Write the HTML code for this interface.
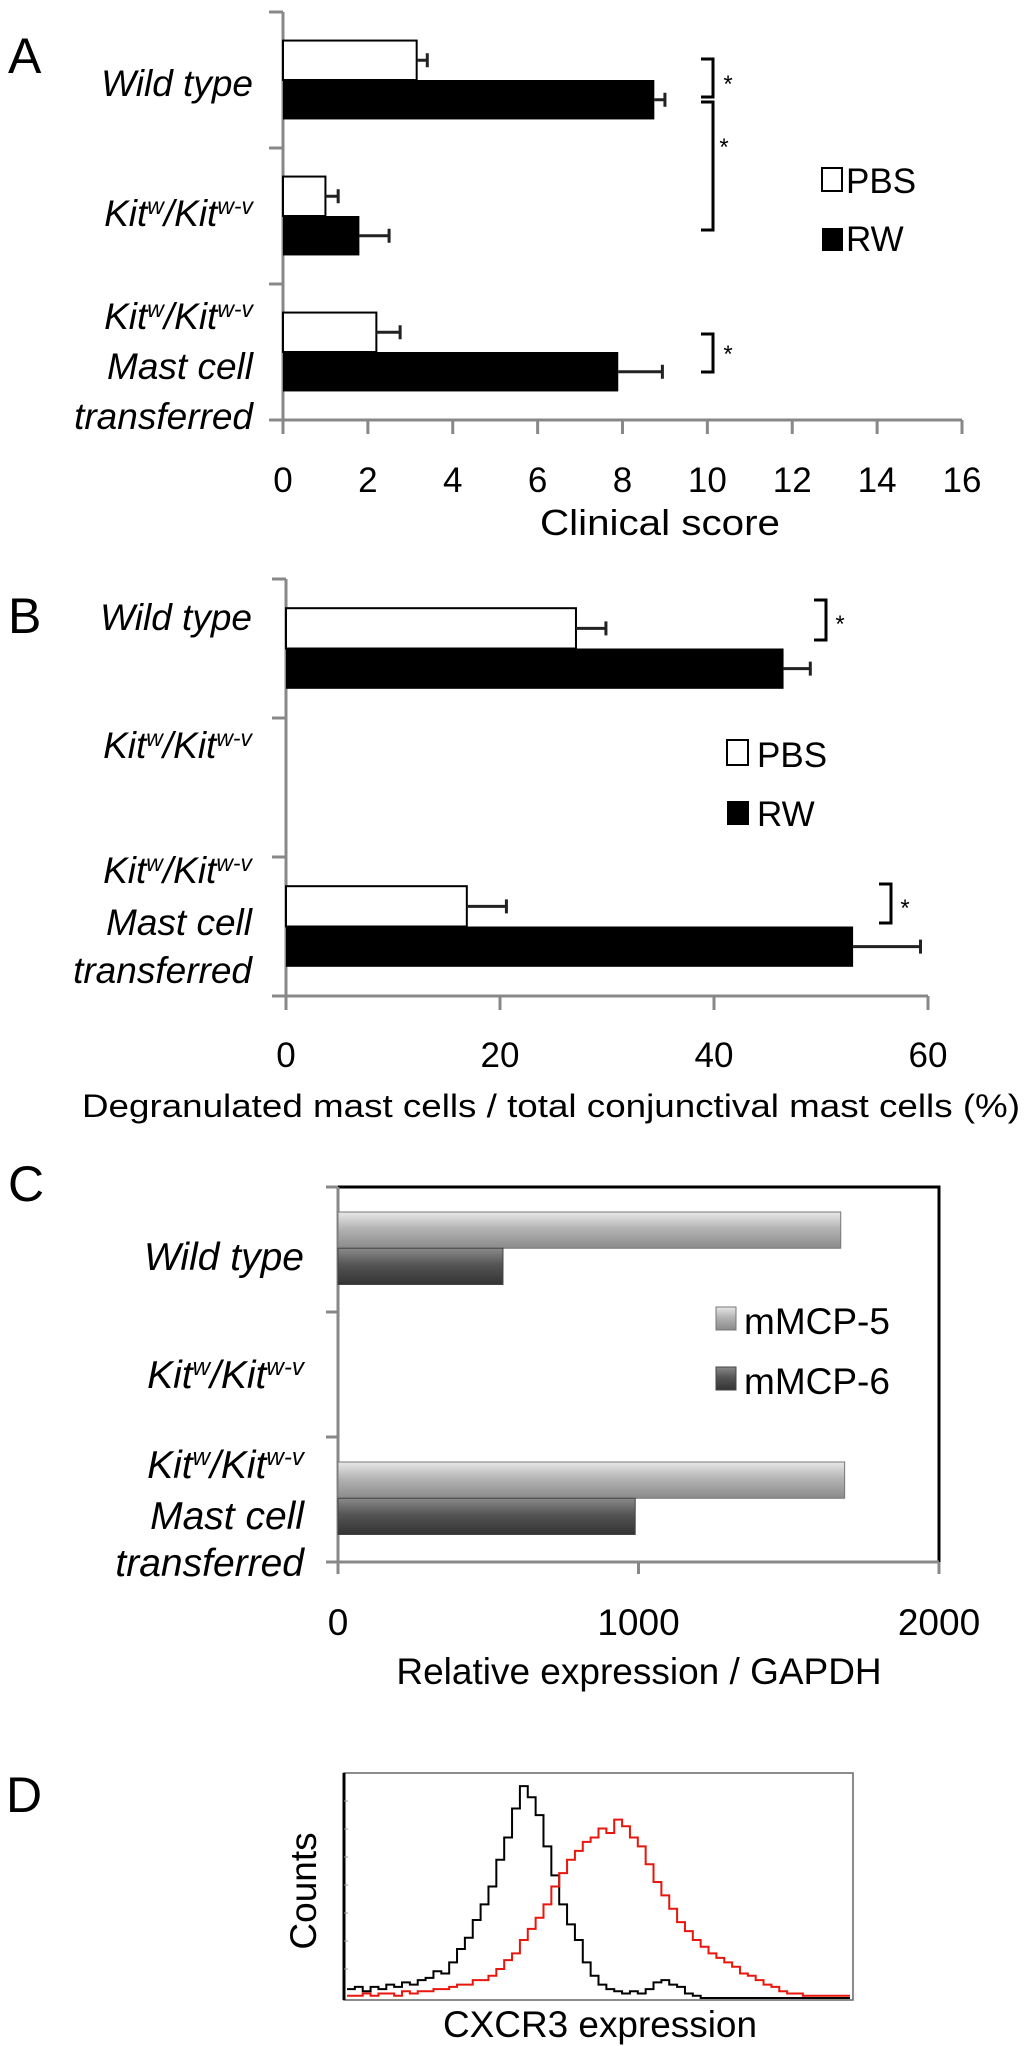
<!DOCTYPE html>
<html><head><meta charset="utf-8"><style>
html,body{margin:0;padding:0;background:#fff;}
svg{display:block;font-family:"Liberation Sans",Arial,sans-serif;}
</style></head><body>
<svg id="fig" width="1032" height="2046" viewBox="0 0 1032 2046" xmlns="http://www.w3.org/2000/svg">
<rect x="0" y="0" width="1032" height="2046" fill="#fff"/>
<g id="panelA"></g>
<g id="panelB"></g>
<g id="panelC"></g>
<g id="panelD"></g>
</svg>
<script>
// ---------- Panel A data ----------
const aCategories = ["Wild type", "Kit", "Mast cell transferred"];
const aPBS = [3.15, 1.0, 2.2];
const aPBSErr = [3.4, 1.3, 2.76];
const aRW = [8.75, 1.8, 7.9];
const aRWErr = [9.0, 2.5, 8.94];
const aTicks = [0, 2, 4, 6, 8, 10, 12, 14, 16];
// ---------- Panel B data ----------
const bCategories = ["Wild type", "Kit", "Mast cell transferred"];
const bPBS = [27.1, null, 16.9];
const bPBSErr = [29.9, null, 20.6];
const bRW = [46.5, null, 53.0];
const bRWErr = [49.0, null, 59.3];
const bTicks = [0, 20, 40, 60];
// ---------- Panel C data ----------
const cCategories = ["Wild type", "Kit", "Mast cell transferred"];
const cMCP5 = [1673, null, 1686];
const cMCP6 = [549, null, 989];
const cTicks = [0, 1000, 2000];
// ---------- Panel D data (histogram, fraction of max counts per bin) ----------
const dControl = [0.04,0.05,0.03,0.05,0.04,0.06,0.05,0.07,0.06,0.08,0.09,0.12,0.11,0.16,0.22,0.27,0.35,0.42,0.5,0.62,0.72,0.85,0.95,0.9,0.82,0.68,0.55,0.42,0.33,0.26,0.16,0.1,0.06,0.04,0.03,0.02,0.03,0.02,0.04,0.07,0.08,0.06,0.05,0.02,0.01,0,0,0,0,0,0,0,0,0,0,0,0,0,0,0,0,0,0,0];
const dCXCR3 = [0.01,0.01,0.02,0.01,0.02,0.02,0.01,0.03,0.02,0.03,0.03,0.04,0.04,0.05,0.06,0.06,0.08,0.08,0.1,0.13,0.17,0.2,0.26,0.31,0.36,0.42,0.5,0.56,0.62,0.66,0.7,0.72,0.76,0.74,0.8,0.77,0.72,0.68,0.6,0.52,0.46,0.4,0.34,0.3,0.26,0.23,0.2,0.18,0.16,0.14,0.11,0.1,0.08,0.06,0.05,0.03,0.02,0.02,0.01,0.01,0.01,0.01,0.01,0.01];

const NS = "http://www.w3.org/2000/svg";
function mk(parent, tag, attrs) {
  const e = document.createElementNS(NS, tag);
  for (const k in attrs) e.setAttribute(k, attrs[k]);
  parent.appendChild(e);
  return e;
}
function txt(parent, x, y, s, size, anchor, italic) {
  const t = mk(parent, "text", {x: x, y: y, "font-size": size, "text-anchor": anchor || "start", fill: "#000"});
  if (italic) t.setAttribute("font-style", "italic");
  t.textContent = s;
  return t;
}
function kitLabel(parent, xRight, y, size) {
  const t = mk(parent, "text", {x: xRight, y: y, "font-size": size, "text-anchor": "end", "font-style": "italic", fill: "#000"});
  const a = mk(t, "tspan", {}); a.textContent = "Kit";
  const b = mk(t, "tspan", {dy: -size * 0.33, "font-size": size * 0.62}); b.textContent = "w";
  const c = mk(t, "tspan", {dy: size * 0.33}); c.textContent = "/Kit";
  const d = mk(t, "tspan", {dy: -size * 0.33, "font-size": size * 0.62}); d.textContent = "w-v";
  return t;
}
function catLabels(g, xRight, ys, size) {
  const l1 = txt(g, xRight, ys[0], "Wild type", size, "end", true);
  
  
  const l2 = kitLabel(g, xRight, ys[1], size);
  
  
  const l3 = kitLabel(g, xRight, ys[2], size);
  
  
  const l4 = txt(g, xRight, ys[3], "Mast cell", size, "end", true);
  
  
  const l5 = txt(g, xRight, ys[4], "transferred", size, "end", true);
  
  
}
function bracket(g, x1, x2, y1, y2, sx, sy) {
  const p = mk(g, "path", {d: `M${x1},${y1} H${x2} V${y2} H${x1}`, fill: "none", stroke: "#000", "stroke-width": 3});
  
  
  const s = txt(g, sx, sy, "*", 24, "middle");
  
  
}

function barPanel(g, o) {
  const xs = v => o.x0 + (v - o.dMin) / (o.dMax - o.dMin) * (o.x1 - o.x0);
  const band = (o.yBot - o.yTop) / o.pbs.length;
  const ya = mk(g, "line", {x1: o.x0, y1: o.yTop, x2: o.x0, y2: o.yBot, stroke: "#888", "stroke-width": 3});
  
  
  const xa = mk(g, "line", {x1: o.x0 - 14, y1: o.yBot, x2: o.x1, y2: o.yBot, stroke: "#888", "stroke-width": 3});
  
  
  for (let i = 0; i < o.pbs.length; i++) {
    const tk = mk(g, "line", {x1: o.x0 - 14, y1: o.yTop + i * band, x2: o.x0, y2: o.yTop + i * band, stroke: "#888", "stroke-width": 3});
    
    
  }
  o.ticks.forEach(t => {
    const x = xs(t);
    const tl = mk(g, "line", {x1: x, y1: o.yBot, x2: x, y2: o.yBot + 14, stroke: "#888", "stroke-width": 3});
    
    
    const lb = txt(g, x, o.tickY, String(t), o.tickSize, "middle");
    
    
  });
  const bh = band * 0.29;
  for (let i = 0; i < o.pbs.length; i++) {
    const yb = o.yTop + i * band + band * 0.21;
    if (o.pbs[i] != null) {
      const r = mk(g, "rect", {x: o.x0, y: yb, width: xs(o.pbs[i]) - o.x0, height: bh, fill: "#fff", stroke: "#000", "stroke-width": 2});
      
      
      const ym = yb + bh / 2;
      const e = mk(g, "path", {d: `M${xs(o.pbs[i])},${ym} H${xs(o.pbsErr[i])} M${xs(o.pbsErr[i])},${ym - 7} V${ym + 7}`, stroke: "#222", "stroke-width": 3, fill: "none"});
      
      
    }
    if (o.rw[i] != null) {
      const y2 = yb + bh;
      const r = mk(g, "rect", {x: o.x0, y: y2, width: xs(o.rw[i]) - o.x0, height: bh, fill: "#000"});
      
      
      const ym = y2 + bh / 2;
      const e = mk(g, "path", {d: `M${xs(o.rw[i])},${ym} H${xs(o.rwErr[i])} M${xs(o.rwErr[i])},${ym - 7} V${ym + 7}`, stroke: "#222", "stroke-width": 3, fill: "none"});
      
      
    }
  }
  return xs;
}

// ---------- Panel A ----------
(function () {
  const g = document.getElementById("panelA");
  const pl = txt(g, 8, 73, "A", 50, "start");  
  barPanel(g, {x0: 283, x1: 962, dMin: 0, dMax: 16, yTop: 12, yBot: 420, pbs: aPBS, pbsErr: aPBSErr, rw: aRW, rwErr: aRWErr, ticks: aTicks, tickY: 492, tickSize: 35});
  catLabels(g, 253, [96, 226, 329, 379, 429], 37);
  const xt = txt(g, 540, 535, "Clinical score", 36, "start");
  xt.setAttribute("textLength", "240"); xt.setAttribute("lengthAdjust", "spacingAndGlyphs");
   
  bracket(g, 701, 713, 59, 97, 728, 92);
  bracket(g, 701, 713, 102, 230, 724, 155);
  bracket(g, 701, 713, 334, 372, 728, 362);
  const l1 = mk(g, "rect", {x: 822, y: 168, width: 20, height: 23, fill: "#fff", stroke: "#000", "stroke-width": 2});  
  const t1 = txt(g, 846, 193, "PBS", 35);  
  const l2 = mk(g, "rect", {x: 822, y: 228, width: 21, height: 23, fill: "#000"});  
  const t2 = txt(g, 846, 251, "RW", 35);  
})();

// ---------- Panel B ----------
(function () {
  const g = document.getElementById("panelB");
  const pl = txt(g, 8, 633, "B", 50, "start");  
  barPanel(g, {x0: 286, x1: 928, dMin: 0, dMax: 60, yTop: 579, yBot: 996, pbs: bPBS, pbsErr: bPBSErr, rw: bRW, rwErr: bRWErr, ticks: bTicks, tickY: 1067, tickSize: 35});
  catLabels(g, 252, [630, 758, 883, 935, 983], 37);
  const xt = txt(g, 82, 1117, "Degranulated mast cells /  total conjunctival mast cells (%)", 32, "start");
  xt.setAttribute("textLength", "938"); xt.setAttribute("lengthAdjust", "spacingAndGlyphs");
   
  bracket(g, 814, 826, 600, 640, 840, 632);
  bracket(g, 879, 891, 884, 923, 905, 916);
  const l1 = mk(g, "rect", {x: 727, y: 740, width: 21, height: 25, fill: "#fff", stroke: "#000", "stroke-width": 2});  
  const t1 = txt(g, 757, 767, "PBS", 35);  
  const l2 = mk(g, "rect", {x: 727, y: 801, width: 22, height: 24, fill: "#000"});  
  const t2 = txt(g, 757, 826, "RW", 35);  
})();

// ---------- Panel C ----------
(function () {
  const g = document.getElementById("panelC");
  const defs = mk(g, "defs", {});
  const g1 = mk(defs, "linearGradient", {id: "gLight", x1: 0, y1: 0, x2: 0, y2: 1});
  mk(g1, "stop", {offset: "0", "stop-color": "#e8e8e8"});
  mk(g1, "stop", {offset: "0.45", "stop-color": "#b4b4b4"});
  mk(g1, "stop", {offset: "1", "stop-color": "#8a8a8a"});
  const g2 = mk(defs, "linearGradient", {id: "gDark", x1: 0, y1: 0, x2: 0, y2: 1});
  mk(g2, "stop", {offset: "0", "stop-color": "#8a8a8a"});
  mk(g2, "stop", {offset: "0.45", "stop-color": "#555"});
  mk(g2, "stop", {offset: "1", "stop-color": "#333"});
  const x0 = 338, x1 = 939, yTop = 1187, yBot = 1562, dMax = 2000;
  const xs = v => x0 + v / dMax * (x1 - x0);
  const pl = txt(g, 8, 1201, "C", 50, "start");  
  const fr = mk(g, "path", {d: `M${x0},${yTop} H${x1} V${yBot}`, fill: "none", stroke: "#000", "stroke-width": 3});
   
  const ya = mk(g, "line", {x1: x0, y1: yTop, x2: x0, y2: yBot, stroke: "#888", "stroke-width": 3});
   
  const xa = mk(g, "line", {x1: x0 - 12, y1: yBot, x2: x1, y2: yBot, stroke: "#888", "stroke-width": 3});
   
  const band = (yBot - yTop) / cCategories.length;
  for (let i = 0; i < cCategories.length; i++) {
    const tk = mk(g, "line", {x1: x0 - 12, y1: yTop + i * band, x2: x0, y2: yTop + i * band, stroke: "#888", "stroke-width": 3});
     
  }
  cTicks.forEach(t => {
    const tl = mk(g, "line", {x1: xs(t), y1: yBot, x2: xs(t), y2: yBot + 12, stroke: "#888", "stroke-width": 3});
     
    const lb = txt(g, xs(t), 1635, String(t), 37, "middle");
     
  });
  const bh = band * 0.29;
  for (let i = 0; i < cCategories.length; i++) {
    const yb = yTop + i * band + band * 0.2;
    if (cMCP5[i] != null) {
      const r = mk(g, "rect", {x: x0, y: yb, width: xs(cMCP5[i]) - x0, height: bh, fill: "url(#gLight)", stroke: "#777", "stroke-width": 1});
       
    }
    if (cMCP6[i] != null) {
      const r = mk(g, "rect", {x: x0, y: yb + bh, width: xs(cMCP6[i]) - x0, height: bh, fill: "url(#gDark)", stroke: "#444", "stroke-width": 1});
       
    }
  }
  catLabels(g, 304, [1270, 1388, 1478, 1529, 1576], 39);
  const xt = txt(g, 639, 1684, "Relative expression / GAPDH", 37, "middle");
   
  const s1 = mk(g, "rect", {x: 716, y: 1307, width: 20, height: 23, fill: "url(#gLight)", stroke: "#777"});  
  const tt1 = txt(g, 744, 1334, "mMCP-5", 37);  
  const s2 = mk(g, "rect", {x: 716, y: 1367, width: 20, height: 23, fill: "url(#gDark)", stroke: "#444"});  
  const tt2 = txt(g, 744, 1394, "mMCP-6", 37);  
})();

// ---------- Panel D ----------
(function () {
  const g = document.getElementById("panelD");
  const x0 = 344, x1 = 853, yTop = 1773, yBot = 2000;
  const nb = dControl.length;
  const xs = i => x0 + 3 + i / nb * (x1 - x0 - 6);
  const ys = v => yBot - 2 - v * (yBot - yTop - 4);
  const pl = txt(g, 6, 1812, "D", 50, "start");  
  const box = mk(g, "rect", {x: x0, y: yTop, width: x1 - x0, height: yBot - yTop, fill: "#fff", stroke: "#666", "stroke-width": 1.5});
   
  const ya = mk(g, "line", {x1: x0, y1: yTop, x2: x0, y2: yBot, stroke: "#000", "stroke-width": 3});
   
  for (let k = 1; k < 8; k++) {
    const tk = mk(g, "line", {x1: x0, y1: yTop + k * 28, x2: x0 + 4, y2: yTop + k * 28, stroke: "#999", "stroke-width": 1});
     
  }
  function hist(arr, color, name) {
    let d = `M${xs(0)},${ys(arr[0])}`;
    for (let i = 0; i < arr.length; i++) {
      d += ` V${ys(arr[i])} H${xs(i + 1)}`;
    }
    const p = mk(g, "path", {d: d, fill: "none", stroke: color, "stroke-width": 2, "stroke-linejoin": "miter"});
    
    
  }
  hist(dControl, "#000", "histogram-control");
  hist(dCXCR3, "#e8160c", "histogram-cxcr3");
  const c = txt(g, 0, 0, "Counts", 37, "middle");
  c.setAttribute("transform", "translate(316,1891) rotate(-90)");
   
  const xt = txt(g, 443, 2037, "CXCR3 expression", 37, "start");
  xt.setAttribute("textLength", "314"); xt.setAttribute("lengthAdjust", "spacingAndGlyphs");
   
})();
</script>
</body></html>
